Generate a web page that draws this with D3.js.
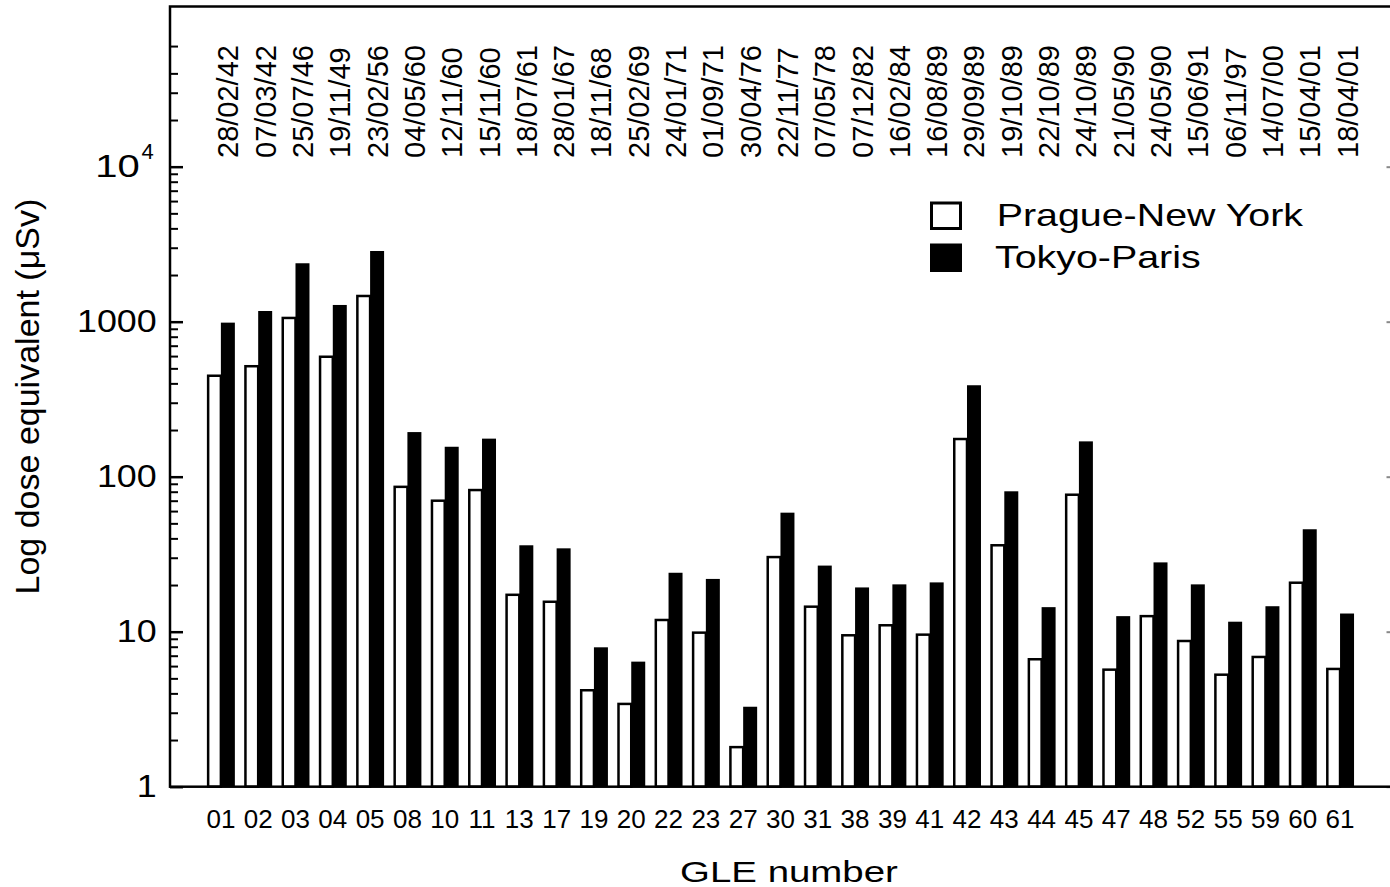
<!DOCTYPE html>
<html>
<head lang="en">
    <meta charset="UTF-8">
    <title>GLE dose equivalent</title>
    <script src="https://d3js.org/d3.v7.min.js" charset="utf-8"></script>
    <style type="text/css">
        body { margin: 0; background: #fff; }
        text { font-family: "Liberation Sans", Arial, sans-serif; fill: #000; }
    </style>
</head>
<body>

<svg id="svg" width="1390" height="887"></svg>

<script>
    // GLE numbers along the x axis
    var gleNumbers = ["01", "02", "03", "04", "05", "08", "10", "11", "13", "17", "19", "20", "22", "23", "27",
        "30", "31", "38", "39", "41", "42", "43", "44", "45", "47", "48", "52", "55", "59", "60", "61"];

    // event dates printed above the bars
    var gleDates = ["28/02/42", "07/03/42", "25/07/46", "19/11/49", "23/02/56", "04/05/60", "12/11/60", "15/11/60",
        "18/07/61", "28/01/67", "18/11/68", "25/02/69", "24/01/71", "01/09/71", "30/04/76", "22/11/77", "07/05/78",
        "07/12/82", "16/02/84", "16/08/89", "29/09/89", "19/10/89", "22/10/89", "24/10/89", "21/05/90", "24/05/90",
        "15/06/91", "06/11/97", "14/07/00", "15/04/01", "18/04/01"];

    // dose equivalent in microSv
    var pragueNewYork = [448, 516, 1057, 594, 1465, 86, 70, 82, 17.3, 15.6, 4.19, 3.42, 11.9, 9.86, 1.80,
        30.3, 14.5, 9.48, 11.0, 9.57, 175, 36.1, 6.64, 76.5, 5.69, 12.6, 8.71, 5.28, 6.87, 20.7, 5.75];
    var tokyoParis = [986, 1172, 2382, 1282, 2858, 194, 156, 176, 36.1, 34.5, 7.93, 6.41, 24.0, 21.9, 3.28,
        58.6, 26.7, 19.3, 20.2, 20.8, 389, 80.5, 14.4, 169, 12.6, 28.0, 20.2, 11.6, 14.6, 45.8, 13.1];

    var seriesNames = ["Prague-New York", "Tokyo-Paris"];

    var majorTicks = [1, 10, 100, 1000, 10000];
    var minorTicks = [2, 3, 4, 5, 6, 7, 8, 9, 20, 30, 40, 50, 60, 70, 80, 90, 200, 300, 400, 500, 600, 700, 800, 900,
        2000, 3000, 4000, 5000, 6000, 7000, 8000, 9000, 20000, 30000, 40000, 60000];

    var svg = d3.select("svg");

    var plotLeft = 170, plotRight = 1394, plotTop = 6.5, plotBottom = 786.7;

    var x = d3.scaleBand()
            .domain(gleNumbers)
            .range([plotLeft, plotRight])
            .paddingInner(0.25)
            .paddingOuter(1.03)
            .align(0.48);

    var sub = d3.scaleBand()
            .domain(seriesNames)
            .range([0, x.bandwidth()]);

    var y = d3.scaleLog()
            .domain([1, 1.08e5])
            .range([plotBottom, plotTop]);

    var fill = d3.scaleOrdinal().domain(seriesNames).range(["#fff", "#000"]);

    // stretch text horizontally like the original wide font
    function stretch(sel, k) {
        sel.each(function () {
            var len = this.getComputedTextLength();
            d3.select(this).attr("textLength", len * k).attr("lengthAdjust", "spacingAndGlyphs");
        });
    }

    var rows = gleNumbers.map(function (g, i) {
        return {gle: g, date: gleDates[i], values: [pragueNewYork[i], tokyoParis[i]]};
    });

    // bars
    var groups = svg.append("g").selectAll("g")
            .data(rows)
            .enter().append("g")
            .attr("transform", function (d) { return "translate(" + x(d.gle) + ",0)"; });

    groups.append("rect")
            .attr("x", sub(seriesNames[0]) + 1.25)
            .attr("width", sub.bandwidth() - 1.25)
            .attr("y", function (d) { return y(d.values[0]); })
            .attr("height", function (d) { return y(1) - y(d.values[0]); })
            .style("fill", fill(seriesNames[0]))
            .style("stroke", "#000")
            .style("stroke-width", 2.5);

    groups.append("rect")
            .attr("x", sub(seriesNames[1]))
            .attr("width", sub.bandwidth())
            .attr("y", function (d) { return y(d.values[1]); })
            .attr("height", function (d) { return y(1) - y(d.values[1]); })
            .style("fill", fill(seriesNames[1]));

    // dates, rotated, over the black bars
    groups.append("text")
            .attr("transform", "translate(" + (sub(seriesNames[1]) + sub.bandwidth() / 2 + 10.5) + ",158) rotate(-90)")
            .style("font-size", "29px")
            .text(function (d) { return d.date; });

    // y axis, ticks pointing inward
    var yAxis = svg.append("g")
            .attr("transform", "translate(" + plotLeft + ",0)")
            .call(d3.axisLeft(y).tickValues(majorTicks).tickSizeInner(-13).tickSizeOuter(0).tickPadding(13.3)
                    .tickFormat(function (d) { return d === 10000 ? "10" : d3.format("d")(d); }));
    yAxis.select(".domain").remove();
    yAxis.selectAll("line").style("stroke", "#000").style("stroke-width", 2.5);
    yAxis.selectAll("text")
            .style("font-size", "32px")
            .style("font-family", "'Liberation Sans', Arial, sans-serif")
            .attr("dx", function (d) { return d === 10000 ? -17 : 0; });
    yAxis.selectAll("text").filter(function (d) { return d !== 10000; }).call(stretch, 1.12);
    yAxis.selectAll("text").filter(function (d) { return d === 10000; }).call(stretch, 1.25);
    yAxis.selectAll(".tick").filter(function (d) { return d === 10000; })
            .append("text")
            .attr("x", -13.3 - 3)
            .attr("y", -8)
            .attr("text-anchor", "end")
            .style("font-size", "22px")
            .text("4");

    var yMinor = svg.append("g")
            .attr("transform", "translate(" + plotLeft + ",0)")
            .call(d3.axisLeft(y).tickValues(minorTicks).tickSizeInner(-8).tickSizeOuter(0).tickFormat(""));
    yMinor.select(".domain").remove();
    yMinor.selectAll("line").style("stroke", "#000").style("stroke-width", 2);

    // right side mirror ticks, mostly off the picture
    var yRight = svg.append("g")
            .attr("transform", "translate(" + plotRight + ",0)")
            .call(d3.axisRight(y).tickValues(majorTicks).tickSizeInner(-7.5).tickSizeOuter(0).tickFormat(""));
    yRight.select(".domain").remove();
    yRight.selectAll("line").style("stroke", "#888").style("stroke-width", 2);

    // x axis labels
    var xAxis = svg.append("g")
            .attr("transform", "translate(0," + plotBottom + ")")
            .call(d3.axisBottom(x).tickSize(0).tickPadding(23));
    xAxis.select(".domain").remove();
    xAxis.selectAll("text")
            .style("font-size", "26px")
            .style("font-family", "'Liberation Sans', Arial, sans-serif");

    // frame
    svg.append("rect")
            .attr("x", plotLeft)
            .attr("y", plotTop)
            .attr("width", plotRight - plotLeft)
            .attr("height", plotBottom - plotTop)
            .style("fill", "none")
            .style("stroke", "#000")
            .style("stroke-width", 2.5);

    // axis titles
    svg.append("text")
            .attr("transform", "translate(39," + (plotTop + plotBottom) / 2 + ") rotate(-90)")
            .attr("text-anchor", "middle")
            .style("font-size", "34px")
            .text("Log dose equivalent (\u03bcSv)");

    svg.append("text")
            .attr("x", 789)
            .attr("y", 881.7)
            .attr("text-anchor", "middle")
            .style("font-size", "30px")
            .text("GLE number")
            .call(stretch, 1.28);

    // legend
    var legend = svg.append("g").selectAll("g")
            .data(seriesNames)
            .enter().append("g")
            .attr("transform", function (d, i) { return "translate(930," + (201.5 + i * 42) + ")"; });

    legend.append("rect")
            .attr("x", function (d, i) { return i === 0 ? 1.5 : 0; })
            .attr("y", function (d, i) { return i === 0 ? 1.5 : 0; })
            .attr("width", function (d, i) { return i === 0 ? 29 : 32; })
            .attr("height", function (d, i) { return i === 0 ? 25.5 : 28.5; })
            .style("fill", function (d) { return fill(d); })
            .style("stroke", function (d, i) { return i === 0 ? "#000" : "none"; })
            .style("stroke-width", 3);

    legend.append("text")
            .attr("x", function (d, i) { return i === 0 ? 66.7 : 65; })
            .attr("y", 24.5)
            .style("font-size", "32px")
            .text(function (d) { return d; })
            .call(stretch, 1.23);
</script>

</body>
</html>
